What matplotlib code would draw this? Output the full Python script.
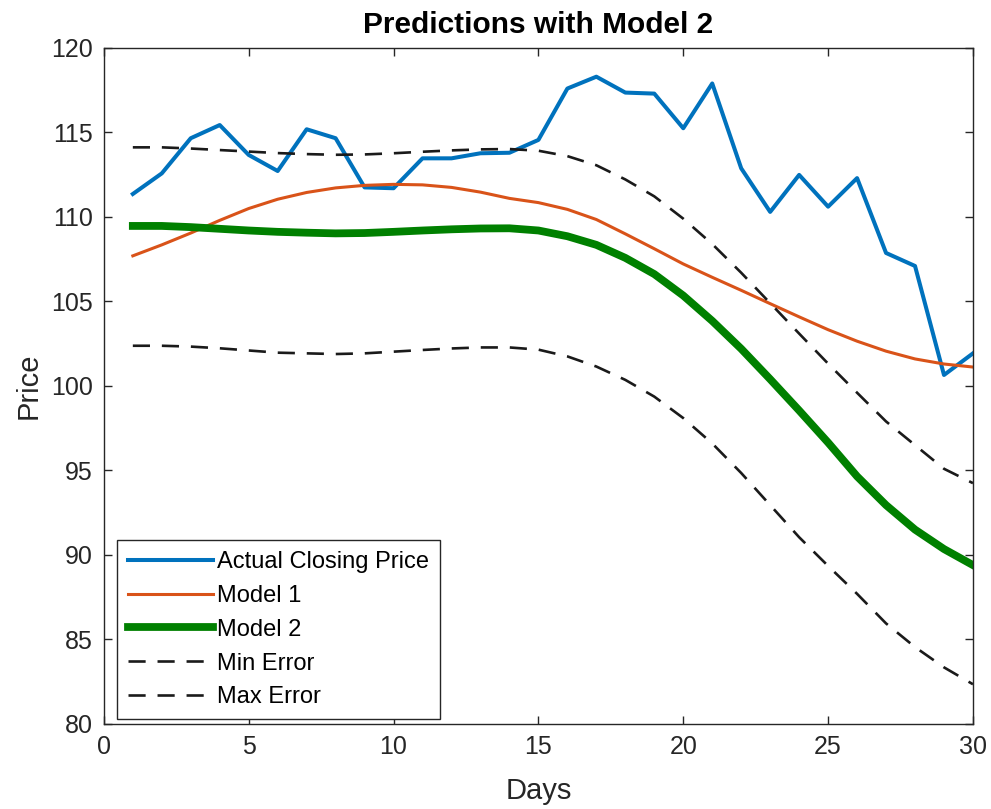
import matplotlib
matplotlib.use("Agg")
import matplotlib.pyplot as plt

plt.rcParams['font.family'] = ['Liberation Sans', 'DejaVu Sans']

# 数据
days = list(range(1, 31))
actual_close = [111.36, 112.58, 114.66, 115.44, 113.67, 112.72, 115.19, 114.66, 111.75, 111.7,
                113.47, 113.47, 113.77, 113.8, 114.56, 117.6, 118.3, 117.36, 117.3, 115.25,
                117.9, 112.88, 110.3, 112.49, 110.61, 112.3, 107.87, 107.1, 100.65, 101.93]
model_1 = [107.7, 108.35, 109.05, 109.8, 110.5, 111.05, 111.45, 111.72, 111.87, 111.93,
           111.9, 111.75, 111.47, 111.1, 110.85, 110.45, 109.85, 109.0, 108.12, 107.22,
           106.43, 105.66, 104.87, 104.09, 103.33, 102.65, 102.06, 101.6, 101.3, 101.12]
model_2 = [109.47, 109.47, 109.4, 109.3, 109.2, 109.12, 109.07, 109.03, 109.05, 109.12,
           109.2, 109.27, 109.32, 109.33, 109.2, 108.86, 108.35, 107.58, 106.62, 105.35,
           103.85, 102.2, 100.4, 98.55, 96.65, 94.65, 92.95, 91.5, 90.35, 89.4]
min_error = [102.38, 102.38, 102.33, 102.23, 102.1, 101.97, 101.93, 101.89, 101.93, 102.03,
             102.13, 102.22, 102.28, 102.28, 102.15, 101.75, 101.15, 100.36, 99.37, 98.1,
             96.6, 94.85, 92.95, 91.05, 89.35, 87.7, 85.95, 84.55, 83.35, 82.35]
max_error = [114.12, 114.12, 114.05, 113.96, 113.87, 113.78, 113.72, 113.68, 113.7, 113.77,
             113.86, 113.94, 114.0, 114.02, 113.92, 113.6, 113.06, 112.22, 111.22, 109.9,
             108.4, 106.7, 104.9, 103.1, 101.32, 99.6, 97.9, 96.5, 95.1, 94.25]

fig = plt.figure(figsize=(9.91, 8.09), dpi=100)
ax = fig.add_axes([0.1048, 0.1051, 0.8770, 0.8356])

ax.plot(days, actual_close, color='#0072BD', lw=2.9, label='Actual Closing Price')
ax.plot(days, model_1, color='#D95319', lw=2.2, label='Model 1')
ax.plot(days, model_2, color='#008000', lw=5.6, label='Model 2')
ax.plot(days, min_error, color='#1a1a1a', lw=1.9, dashes=(6.5, 4.5), label='Min Error')
ax.plot(days, max_error, color='#1a1a1a', lw=1.9, dashes=(6.5, 4.5), label='Max Error')

ax.set_xlim(0, 30)
ax.set_ylim(80, 120)
ax.set_xticks(range(0, 31, 5))
ax.set_yticks(range(80, 121, 5))

ax.tick_params(direction='in', top=True, right=True, length=6, width=1,
               labelsize=18, labelcolor='#262626', color='#262626', pad=8)
for s in ax.spines.values():
    s.set_color('#262626')
    s.set_linewidth(1.0)

ax.set_xlabel('Days', fontsize=21, color='#262626', labelpad=13)
ax.set_ylabel('Price', fontsize=21, color='#262626', labelpad=6)
ax.set_title('Predictions with Model 2', fontsize=21.5, fontweight='bold', pad=11)

leg = ax.legend(loc='lower left', bbox_to_anchor=(0.015, 0.0074), fontsize=17,
                frameon=True, fancybox=False, edgecolor='#262626', framealpha=1,
                handlelength=3.6, handletextpad=0.2, labelspacing=0.5,
                borderpad=0.45, borderaxespad=0)
leg.get_frame().set_linewidth(1.0)

fig.savefig('out.png', dpi=100)
